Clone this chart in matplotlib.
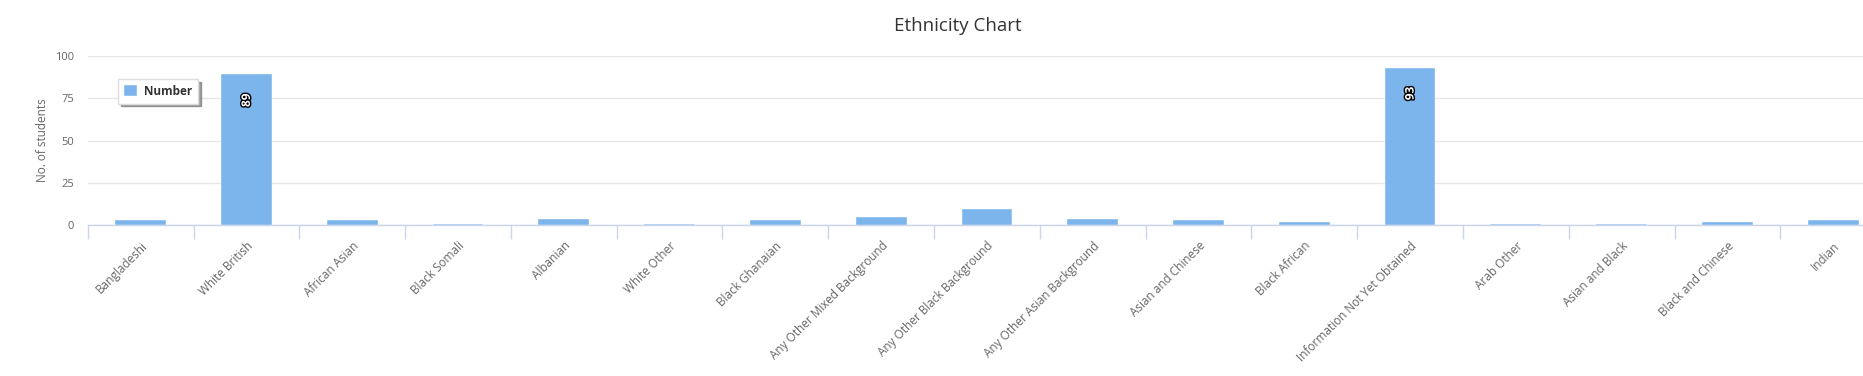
import matplotlib
matplotlib.use("Agg")
import matplotlib.pyplot as plt
import matplotlib.patheffects as pe
import numpy as np

categories = ["Bangladeshi", "White British", "African Asian", "Black Somali", "Albanian",
              "White Other", "Black Ghanaian", "Any Other Mixed Background",
              "Any Other Black Background", "Any Other Asian Background", "Asian and Chinese",
              "Black African", "Information Not Yet Obtained", "Arab Other", "Asian and Black",
              "Black and Chinese", "Indian"]
values = [3, 89, 3, 1, 4, 1, 3, 5, 10, 4, 3, 2, 93, 1, 1, 2, 3]
labelled = ["White British", "Information Not Yet Obtained"]
yticks = [0, 25, 50, 75, 100]

plt.rcParams['font.family'] = ['Open Sans', 'DejaVu Sans']

fig = plt.figure(figsize=(18.63, 3.76), dpi=100)
ax = fig.add_axes([0.0471, 0.4003, 0.9653, 0.4516])

x = np.arange(len(categories))
bars = ax.bar(x, values, width=0.48, color="#7cb5ec", edgecolor="#ffffff", linewidth=0.3,
              label="Number", zorder=3)

for xi, v, name in zip(x, values, categories):
    if name in labelled:
        ax.annotate(str(v), (xi, v), xytext=(0, -26), textcoords="offset pixels",
                    rotation=90, ha="center", va="center", color="white",
                    fontsize=8.5, fontweight="bold", zorder=5,
                    path_effects=[pe.withStroke(linewidth=2, foreground="black")])

ax.set_xlim(-0.5, len(categories) - 0.5)
ax.set_ylim(0, 100)
ax.set_yticks(yticks)
ax.set_yticklabels([str(t) for t in yticks], fontsize=8, color="#666666")
ax.yaxis.grid(True, color="#e6e6e6", linewidth=1, zorder=0)
ax.tick_params(axis="y", length=0, pad=10)

# tick marks on category boundaries, labels on centres
ax.set_xticks(np.arange(len(categories) + 1) - 0.5)
ax.set_xticklabels([])
ax.set_xticks(x, minor=True)
ax.set_xticklabels(categories, minor=True, rotation=45, ha="right", rotation_mode="anchor",
                   fontsize=8.5, color="#666666")
ax.tick_params(axis="x", which="major", length=10, color="#ccd6eb", width=1)
ax.tick_params(axis="x", which="minor", length=0, pad=10)

for s in ["top", "right", "left"]:
    ax.spines[s].set_visible(False)
ax.spines["bottom"].set_color("#ccd6eb")
ax.spines["bottom"].set_linewidth(1)

ax.set_ylabel("No. of students", fontsize=8.5, color="#666666", labelpad=4)

fig.text(0.514, 0.93, "Ethnicity Chart", ha="center", va="center", fontsize=13.5, color="#333333")

leg = ax.legend(loc="upper left", bbox_to_anchor=(112 / 1863, 1 - 73 / 376),
                bbox_transform=fig.transFigure, frameon=True, shadow=True, fancybox=False,
                handlelength=1.1, handleheight=1.1, handletextpad=0.6, borderpad=0.5, fontsize=8.5)
leg.get_frame().set_edgecolor("#dddddd")
leg.get_frame().set_linewidth(1)
for t in leg.get_texts():
    t.set_fontweight("bold")
    t.set_color("#333333")

fig.savefig("out.png", dpi=100)
